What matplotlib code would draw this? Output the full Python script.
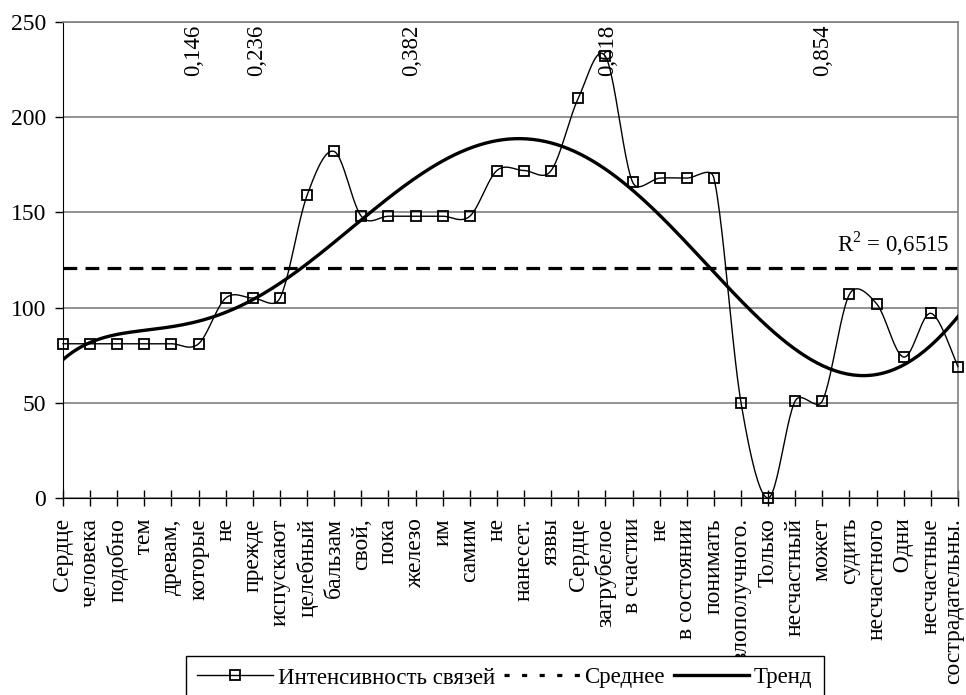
import numpy as np
import matplotlib
matplotlib.use("Agg")
import matplotlib.pyplot as plt
import matplotlib.transforms as mtransforms
from matplotlib.lines import Line2D

plt.rcParams['font.family'] = ['Liberation Serif', 'DejaVu Serif']
plt.rcParams['mathtext.fontset'] = 'custom'
plt.rcParams['mathtext.rm'] = 'Liberation Serif'

words = ["Сердце", "человека", "подобно", "   тем", "древам,", "которые", "не",
         "прежде", "испускают", "целебный", "бальзам", "свой,", "пока", "железо",
         "им", "самим", "не", "нанесет.", "язвы", "Сердце", "загрубелое",
         "в счастии", "не", "в состоянии", "понимать", "злополучного.", "Только",
         "несчастный", "может", "судить", "несчастного", "   Одни", "несчастные",
         "сострадательны."]
values = [81, 81, 81, 81, 81, 81, 105, 105, 105, 159, 182, 148, 148, 148,
          148, 148, 172, 172, 172, 210, 232, 166, 168, 168, 168, 50, 0,
          51, 51, 107, 102, 74, 97, 69]
# golden-section marks and their horizontal place (in category units)
marks = ["0,146", "0,236", "0,382", "0,618", "0,854"]
mark_pos = [4.8, 7.15, 12.85, 20.1, 28.0]

x = np.arange(len(values))
y = np.array(values, dtype=float)
mean = y.mean()
coef = np.polyfit(x, y, 6)
tx = np.linspace(0, len(x) - 1, 300)
trend = np.polyval(coef, tx)

fig = plt.figure(figsize=(9.66, 6.95), dpi=100)
ax = fig.add_axes([0.0652, 0.2835, 0.9265, 0.6848])
ax.set_xlim(0, len(x) - 1)
ax.set_ylim(0, 250)


# excel-like smoothed line, bezier computed in screen space
def smooth(ax, xs, ys, n=24):
    P = ax.transData.transform(np.column_stack([xs, ys]))
    out = [P[0]]
    t = np.linspace(0, 1, n + 1)[1:, None]
    for i in range(len(P) - 1):
        p0 = P[i - 1] if i > 0 else P[i]
        p1, p2 = P[i], P[i + 1]
        p3 = P[i + 2] if i + 2 < len(P) else P[i + 1]
        d12 = np.hypot(*(p2 - p1))
        d02 = np.hypot(*(p2 - p0))
        d13 = np.hypot(*(p3 - p1))
        f = 1/6 if d02 == 0 else min(1/6, d12 / (2 * d02))
        g = 1/6 if d13 == 0 else min(1/6, d12 / (2 * d13))
        c1 = p1 + f * (p2 - p0)
        c2 = p2 - g * (p3 - p1)
        seg = ((1 - t)**3 * p1 + 3 * (1 - t)**2 * t * c1
               + 3 * (1 - t) * t**2 * c2 + t**3 * p2)
        out.extend(seg)
    D = ax.transData.inverted().transform(np.array(out))
    return D[:, 0], D[:, 1]


sx, sy = smooth(ax, x.astype(float), y)

ax.plot(sx, sy, color='black', lw=1.0, clip_on=False, zorder=3)
ax.plot(x, y, ls='none', marker='s', ms=7.5, mfc='none', mec='black', mew=1.3,
        clip_on=False, zorder=4)
ax.axhline(mean, color='black', lw=2.3, ls=(0, (4.3, 2.6)), zorder=2)
ax.plot(tx, trend, color='black', lw=2.4, zorder=3)

ax.set_yticks([0, 50, 100, 150, 200, 250])
ax.yaxis.grid(True, color='#808080', lw=1.2)
ax.set_axisbelow(True)
ax.set_xticks(x)
ax.set_xticklabels(words, rotation=90, fontsize=17, va='top', ha='center')
ax.tick_params(axis='x', direction='inout', length=11, width=1, pad=9)
ax.tick_params(axis='y', direction='out', length=6, width=1, labelsize=17, pad=6)
# last label sits right at the figure edge, nudge it in a bit
last = ax.get_xticklabels()[-1]
last.set_transform(last.get_transform() +
                   mtransforms.ScaledTranslation(-4/100, 0, fig.dpi_scale_trans))

ax.spines['left'].set_color('black')
ax.spines['bottom'].set_color('black')
ax.spines['top'].set_color('#808080')
ax.spines['right'].set_color('#808080')
ax.spines['top'].set_linewidth(1.2)
ax.spines['right'].set_linewidth(1.2)

for t, p in zip(marks, mark_pos):
    ax.text(p, 248.5, t, rotation=90, ha='center', va='top', fontsize=16.5)

ax.text(0.99, 0.535, r"R$^2$ = 0,6515", transform=ax.transAxes, ha='right',
        va='center', fontsize=16.5)

handles = [Line2D([], [], color='black', lw=1.0, marker='s', ms=7.5, mfc='none',
                  mec='black', mew=1.3),
           Line2D([], [], color='black', lw=2.3, ls=(0, (1.6, 3.9))),
           Line2D([], [], color='black', lw=2.4)]
fig.legend(handles, ["Интенсивность связей", "Среднее", "Тренд"],
           loc='upper center', bbox_to_anchor=(505/966, 1 - 656/695), ncol=3,
           fontsize=16.5, frameon=True, fancybox=False, edgecolor='black',
           framealpha=1, handlelength=3.3, columnspacing=0.4, handletextpad=0.2,
           borderpad=0.5, borderaxespad=0)

fig.savefig("out.png", dpi=100)
